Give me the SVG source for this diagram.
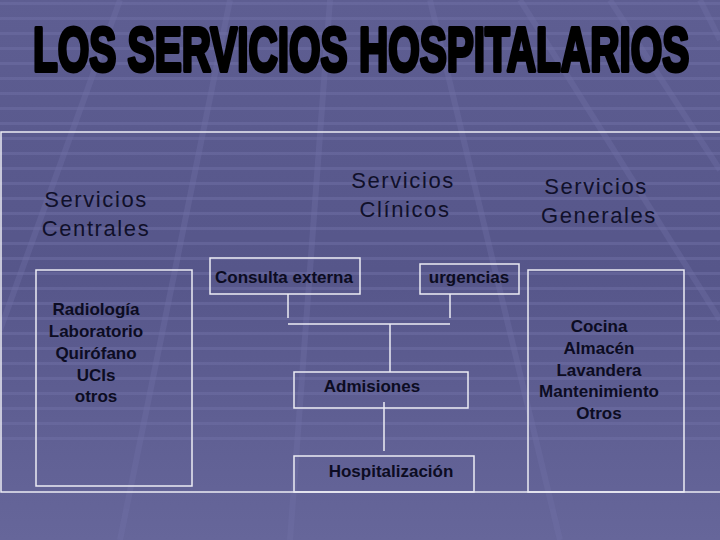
<svg xmlns="http://www.w3.org/2000/svg" width="720" height="540" viewBox="0 0 720 540">
<defs>
<linearGradient id="bg" x1="0" y1="0" x2="0" y2="1">
<stop offset="0" stop-color="#5e5e92"/>
<stop offset="0.5" stop-color="#56568a"/>
<stop offset="1" stop-color="#66669a"/>
</linearGradient>
<pattern id="stripes" x="0" y="0" width="720" height="15" patternUnits="userSpaceOnUse">
<rect x="0" y="2" width="720" height="3" fill="#7070a6" opacity="0.5"/>
</pattern>
<style>
.frame{fill:none;stroke:#ececf4;stroke-width:1.5}
.conn{fill:none;stroke:#ececf4;stroke-width:1.5}
.head{font-family:"Liberation Sans",Arial,sans-serif;font-size:22px;fill:#10102a;text-anchor:middle;letter-spacing:1.6px}
.lbl{font-family:"Liberation Sans",Arial,sans-serif;font-size:17px;font-weight:bold;fill:#0c0c22;text-anchor:middle}
.title{font-family:"Liberation Sans",Arial,sans-serif;font-weight:bold;font-size:63px;fill:#000;stroke:#000;stroke-width:4;stroke-linejoin:round}
</style>
</defs>
<rect x="0" y="0" width="720" height="540" fill="url(#bg)"/>
<rect x="0" y="0" width="720" height="440" fill="url(#stripes)"/>
<g stroke="#7272a8" stroke-width="6" opacity="0.35" fill="none">
<path d="M120 0 L0 330"/>
<path d="M230 0 L120 540"/>
<path d="M330 0 L290 540"/>
<path d="M610 0 L720 170"/>
<path d="M520 0 L720 320"/>
<path d="M430 0 L560 540"/>
<path d="M700 0 L720 40"/>
</g>
<g id="title"><text class="title" transform="matrix(0.6436 0 0 1 33 71)" x="0" y="0">LOS SERVICIOS HOSPITALARIOS</text></g>
<g id="outer"><path class="frame" d="M730 132 H1 V492 H730"/></g>
<g id="centrales-head"><text class="head"><tspan x="96" y="207">Servicios</tspan><tspan x="96" y="236">Centrales</tspan></text></g>
<g id="clinicos-head"><text class="head"><tspan x="403" y="188">Servicios</tspan><tspan x="405" y="217">Clínicos</tspan></text></g>
<g id="generales-head"><text class="head"><tspan x="596" y="194">Servicios</tspan><tspan x="599" y="223">Generales</tspan></text></g>
<g id="centrales-box"><rect class="frame" x="36" y="270" width="156" height="216"/>
<text class="lbl"><tspan x="96" y="315">Radiología</tspan><tspan x="96" y="337">Laboratorio</tspan><tspan x="96" y="359">Quirófano</tspan><tspan x="96" y="381">UCIs</tspan><tspan x="96" y="402">otros</tspan></text></g>
<g id="generales-box"><rect class="frame" x="528" y="270" width="156" height="222"/>
<text class="lbl"><tspan x="599" y="332">Cocina</tspan><tspan x="599" y="354">Almacén</tspan><tspan x="599" y="376">Lavandera</tspan><tspan x="599" y="397">Mantenimiento</tspan><tspan x="599" y="419">Otros</tspan></text></g>
<g id="consulta"><rect class="frame" x="210" y="258" width="150" height="36"/><text class="lbl" x="284" y="283">Consulta externa</text></g>
<g id="urgencias"><rect class="frame" x="420" y="264" width="99" height="30"/><text class="lbl" x="469" y="283">urgencias</text></g>
<g id="admisiones"><rect class="frame" x="294" y="372" width="174" height="36"/><text class="lbl" x="372" y="392">Admisiones</text></g>
<g id="hospitalizacion"><rect class="frame" x="294" y="456" width="180" height="36"/><text class="lbl" x="391" y="477">Hospitalización</text></g>
<g id="connectors">
<path class="conn" d="M288 294 V318"/>
<path class="conn" d="M450 294 V318"/>
<path class="conn" d="M288 324 H450"/>
<path class="conn" d="M390 324 V372"/>
<path class="conn" d="M384 402 V451"/>
</g>
</svg>
